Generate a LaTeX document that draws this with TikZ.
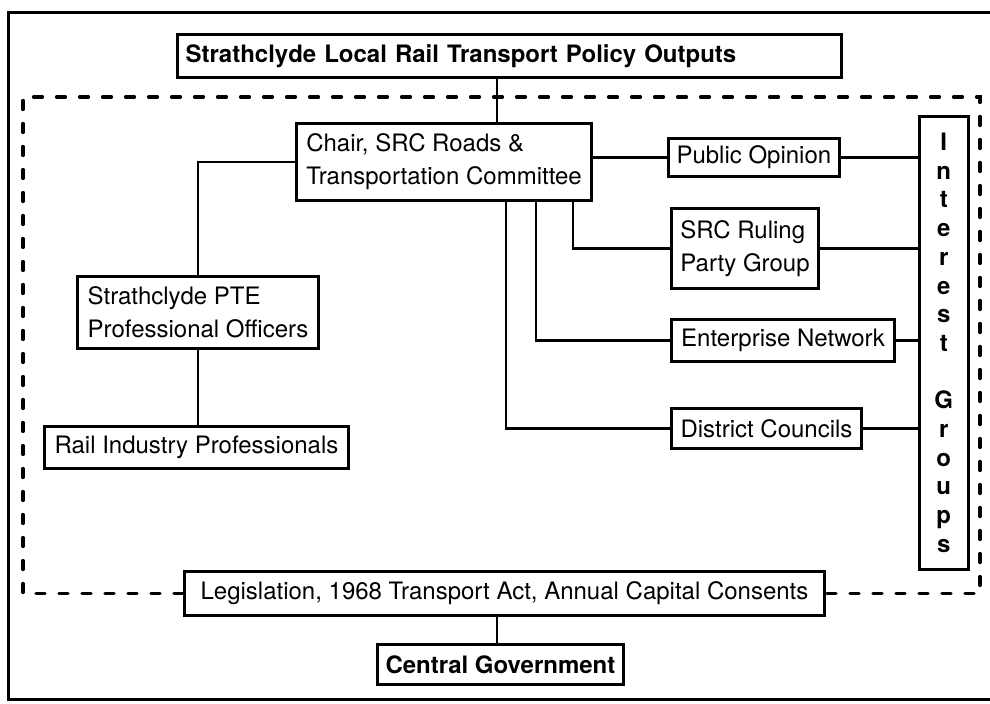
\documentclass[tikz,border=0pt]{standalone}
\usepackage{fontspec}
\setmainfont{TeX Gyre Heros}

\begin{document}
\begin{tikzpicture}[x=0.5pt, y=-0.5pt,
  box/.style={draw, line width=1.5pt, anchor=north west, align=left, inner xsep=4pt, inner ysep=2pt, font=\fontsize{12}{16.5}\selectfont},
  bold/.style={font=\fontsize{12}{16.5}\selectfont\bfseries},
  link/.style={line width=1.4pt},
  scopeline/.style={line width=1.6pt, line cap=round, dash pattern=on 4.5pt off 7pt}]
\useasboundingbox (0,0) rectangle (990,704);
\draw[line width=1.5pt] (995,13) -- (8,13) -- (8,700) -- (995,700);
\node[box, bold, text width=324pt, minimum height=21.5pt] (outputs) at (176,33) {Strathclyde Local Rail Transport Policy Outputs};
\node[box, minimum width=147.5pt, minimum height=38.5pt] (chair) at (295,122) {Chair, SRC Roads \&\\Transportation Committee};
\node[box, minimum width=120.5pt, minimum height=36pt] (pte) at (76,275) {Strathclyde PTE\\Professional Officers};
\node[box, minimum width=152pt, minimum height=21pt] (rail) at (43,425) {Rail Industry Professionals};
\node[box, minimum width=85pt, minimum height=19pt] (public) at (667,137) {Public Opinion};
\node[box, minimum width=73.5pt, minimum height=40pt] (ruling) at (670,207) {SRC Ruling\\Party Group};
\node[box, minimum width=111.5pt, minimum height=21pt] (enterprise) at (670,318) {Enterprise Network};
\node[box, minimum width=95pt, minimum height=20pt] (district) at (670,407) {District Councils};
\node[box, align=center, line width=1.3pt, text width=16.5pt, minimum height=226.5pt, font=\fontsize{12}{14.35}\selectfont\bfseries] (interest) at (918,115) {I\\n\\t\\e\\r\\e\\s\\t\\[14.35pt]G\\r\\o\\u\\p\\s};
\node[box, minimum width=320pt, minimum height=22pt] (legis) at (183,570) {Legislation, 1968 Transport Act, Annual Capital Consents};
\node[box, bold, minimum width=117pt, minimum height=20pt] (govt) at (376,643) {Central Government};
\coordinate (spine) at (497,0);
\draw[link] (outputs.south -| spine) -- (chair.north -| spine);
\draw[link] (chair.west) -| (pte.north);
\draw[link] (pte.south) -- (pte.south |- rail.north);
\draw[link] (chair.east |- public.west) -- (public.west);
\draw[link] ([xshift=-10pt]chair.south east) |- (ruling.west);
\draw[link] ([xshift=-28.5pt]chair.south east) |- (enterprise.west);
\draw[link] ([xshift=-43.5pt]chair.south east) |- (district.west);
\foreach \grp in {public, ruling, enterprise, district}
  \draw[link] (\grp.east) -- (\grp.east -| interest.west);
\draw[link] (legis.south -| spine) -- (govt.north -| spine);
\coordinate (scopenw) at (23,97);
\coordinate (scopene) at (980,97);
\draw[scopeline] (legis.west) -| (scopenw) -- (scopene) |- (legis.east);
\end{tikzpicture}
\end{document}
